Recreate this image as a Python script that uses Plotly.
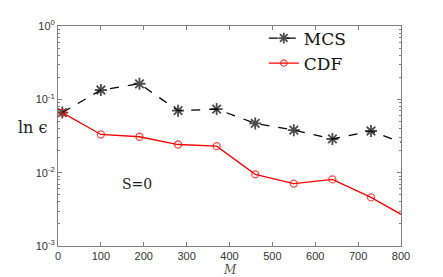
import plotly.graph_objects as go

M = [10, 100, 190, 280, 370, 460, 550, 640, 730, 800]
mcs = [0.066, 0.134, 0.163, 0.070, 0.0736, 0.047, 0.038, 0.0288, 0.037, 0.026]
cdf = [0.066, 0.0332, 0.0309, 0.0242, 0.023, 0.0095, 0.0071, 0.0081, 0.0046, 0.0027]
x_ticks = [0, 100, 200, 300, 400, 500, 600, 700, 800]
y_ticks = [1, 0.1, 0.01, 0.001]
y_ticktext = ["10<sup>0</sup>", "10<sup>-1</sup>", "10<sup>-2</sup>", "10<sup>-3</sup>"]

minor_vals = [m * d for d in [0.001, 0.01, 0.1] for m in range(2, 10)]
msize_mcs = [10] * (len(M) - 1) + [0]
msize_cdf = [7] * (len(M) - 1) + [0]

fig = go.Figure()
fig.add_trace(go.Scatter(
    x=M, y=mcs, name="MCS", mode="lines+markers",
    line=dict(color="black", width=1.3, dash="dash"),
    marker=dict(symbol="asterisk-open", size=msize_mcs, color="black",
                line=dict(color="black", width=1.8)),
))
fig.add_trace(go.Scatter(
    x=M, y=cdf, name="CDF", mode="lines+markers",
    line=dict(color="#ff0000", width=1.3),
    marker=dict(symbol="circle-open", size=msize_cdf, color="#ff0000",
                line=dict(color="#ff0000", width=1.3)),
))

axis_common = dict(showline=True, linecolor="#7f7f7f", linewidth=1, mirror="ticks",
                   ticks="inside", tickcolor="#7f7f7f", showgrid=False, zeroline=False,
                   automargin=False,
                   tickfont=dict(family="Liberation Sans, Arial", size=11, color="#333"))

fig.update_xaxes(range=[0, 800], tickvals=x_ticks, ticklen=4, **axis_common)
fig.update_yaxes(type="log", range=[-3, 0], tickvals=y_ticks, ticktext=y_ticktext, ticklen=4,
                 minor=dict(tickvals=minor_vals, ticks="inside", ticklen=2, tickcolor="#7f7f7f"),
                 **axis_common)

fig.add_annotation(text="ln ϵ", xref="paper", yref="paper", x=-0.074, y=0.54,
                   showarrow=False, font=dict(family="DejaVu Serif", size=16, color="#222"),
                   xanchor="center", yanchor="middle")
fig.add_annotation(text="<i>M</i>", xref="paper", yref="paper", x=0.5, y=-0.108,
                   showarrow=False, font=dict(family="DejaVu Serif", size=12, color="#555"),
                   xanchor="center", yanchor="middle")
fig.add_annotation(text="S=0", x=185, y=-2.16, xref="x", yref="y",
                   showarrow=False, font=dict(family="DejaVu Serif", size=14, color="#222"))

fig.update_layout(
    width=435, height=269,
    margin=dict(l=50, r=42, t=12, b=31),
    paper_bgcolor="white", plot_bgcolor="white",
    legend=dict(x=0.60, y=1.025, xanchor="left", yanchor="top", bgcolor="rgba(0,0,0,0)",
                font=dict(family="DejaVu Serif", size=17, color="#111"),
                itemwidth=30, tracegroupgap=2),
    showlegend=True,
)

fig.write_html("out.html")
